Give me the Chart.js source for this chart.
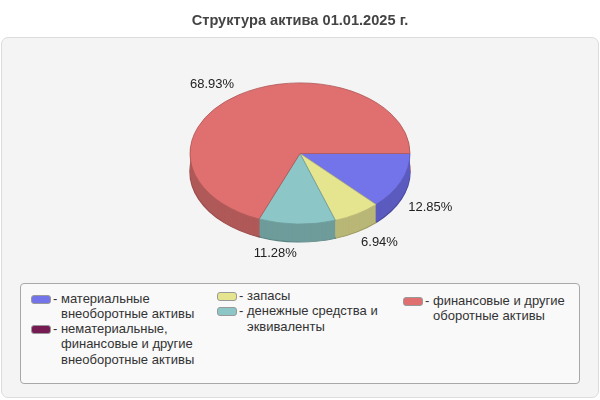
<!DOCTYPE html>
<html>
<head>
<meta charset="utf-8">
<script src="https://cdn.jsdelivr.net/npm/chart.js@4/dist/chart.umd.min.js"></script>
<style>
  html, body { margin: 0; padding: 0; background: #fff; }
  #wrap { position: relative; width: 600px; height: 400px; overflow: hidden; font-family: "Liberation Sans", Arial, sans-serif; }
  #panel { position: absolute; left: 1px; top: 37px; width: 596px; height: 359px; background: #f4f4f4; border: 1px solid #dcdcdc; border-radius: 7px; }
  #box { position: absolute; left: 0; top: 0; width: 600px; height: 400px; }
  #legend { position: absolute; left: 20px; top: 283px; width: 558px; height: 99px; background: #f9f9f9; border: 1px solid #a8a8a8; border-radius: 4px; z-index: 2; }
  .col { position: absolute; }
  .item { position: relative; padding-left: 22px; font-size: 13px; line-height: 15.3px; color: #333; }
  .item .sw { position: absolute; left: 0; top: 4px; width: 18px; height: 7px; border: 1px solid #999; border-radius: 3px; }
  .item .txt { display: block; padding-left: 8px; text-indent: -8px; }
</style>
</head>
<body>
<div id="wrap">
  <div id="panel"></div>
  <div id="box"><canvas id="assetChart"></canvas></div>
  <div id="legend"></div>
</div>
<script>
const title = 'Структура актива 01.01.2025 г.';

const categories = [
    'материальные внеоборотные активы',
    'нематериальные, финансовые и другие внеоборотные активы',
    'запасы',
    'денежные средства и эквиваленты',
    'финансовые и другие оборотные активы'
];

const shares = [12.85, 0, 6.94, 11.28, 68.93];

const topColors = ['#7474ea', '#761a52', '#e6e58f', '#8cc6c6', '#e07070'];
const sideColors = ['#5b5bbf', '#5a1340', '#b9b777', '#6e9c9b', '#b05959'];
const edgeColors = ['#4a4aa0', '#4a0f35', '#9c9a60', '#5a8482', '#9a4c4c'];

// which legend column each category sits in
const legendColumns = [0, 0, 1, 1, 2];

const TILT = 0.642;
const DEPTH = 18;

const pie3d = {
    id: 'pie3d',
    beforeDatasetsDraw(chart) {
        const ctx = chart.ctx;
        const arcs = chart.getDatasetMeta(0).data;
        const cx = arcs[0].x, cy = arcs[0].y;

        // side wall: stack of darker copies pushed down
        for (let d = DEPTH; d >= 1; d--) {
            ctx.save();
            ctx.translate(cx, cy + d);
            ctx.scale(1, TILT);
            ctx.translate(-cx, -cy);
            arcs.forEach((arc, i) => {
                if (!shares[i]) return;
                const saved = arc.options;
                arc.options = Object.assign({}, saved, {
                    backgroundColor: sideColors[i],
                    borderColor: d === DEPTH ? edgeColors[i] : sideColors[i],
                    borderWidth: d === DEPTH ? 1.5 : 0
                });
                arc.draw(ctx);
                arc.options = saved;
            });
            ctx.restore();
        }

        ctx.save();
        ctx.translate(cx, cy);
        ctx.scale(1, TILT);
        ctx.translate(-cx, -cy);
    },
    afterDatasetsDraw(chart) {
        const ctx = chart.ctx;
        ctx.restore();

        const arcs = chart.getDatasetMeta(0).data;
        ctx.save();
        ctx.font = '13px "Liberation Sans", Arial, sans-serif';
        ctx.fillStyle = '#222';
        arcs.forEach((arc, i) => {
            if (!shares[i]) return;
            const mid = (arc.startAngle + arc.endAngle) / 2;
            const c = Math.cos(mid), s = Math.sin(mid);
            const r = arc.outerRadius * 1.07;
            const x = arc.x + c * r;
            const y = arc.y + s * r * TILT + (s > 0 ? DEPTH : 0);
            ctx.textAlign = c >= 0 ? 'left' : 'right';
            ctx.textBaseline = s >= 0 ? 'top' : 'bottom';
            ctx.fillText(shares[i].toFixed(2) + '%', x, y);
        });
        ctx.restore();
    }
};

new Chart(document.getElementById('assetChart'), {
    type: 'pie',
    data: {
        labels: categories,
        datasets: [{
            data: shares,
            backgroundColor: topColors,
            borderColor: sideColors,
            borderWidth: shares.map(v => v ? 1 : 0),
            clip: false
        }]
    },
    options: {
        responsive: true,
        maintainAspectRatio: false,
        animation: false,
        rotation: 90,
        layout: { padding: { top: 0, bottom: 136, left: 0, right: 0 } },
        plugins: {
            legend: { display: false },
            tooltip: { enabled: false },
            title: {
                display: true,
                text: title,
                color: '#444',
                font: { family: '"Liberation Sans", Arial, sans-serif', size: 14.6, weight: 'bold' },
                padding: { top: 12.5, bottom: 13 }
            }
        }
    },
    plugins: [pie3d]
});

// legend built from the same arrays
const legend = document.getElementById('legend');
const colPos = [
    { left: 10, top: 6.5 },
    { left: 196, top: 4 },
    { left: 382, top: 9 }
];
const cols = colPos.map(p => {
    const el = document.createElement('div');
    el.className = 'col';
    el.style.left = p.left + 'px';
    el.style.top = p.top + 'px';
    el.style.width = '170px';
    legend.appendChild(el);
    return el;
});
categories.forEach((name, i) => {
    const item = document.createElement('div');
    item.className = 'item';
    const sw = document.createElement('span');
    sw.className = 'sw';
    sw.style.background = topColors[i];
    const txt = document.createElement('span');
    txt.className = 'txt';
    txt.textContent = '- ' + name;
    item.appendChild(sw);
    item.appendChild(txt);
    cols[legendColumns[i]].appendChild(item);
});
</script>
</body>
</html>
